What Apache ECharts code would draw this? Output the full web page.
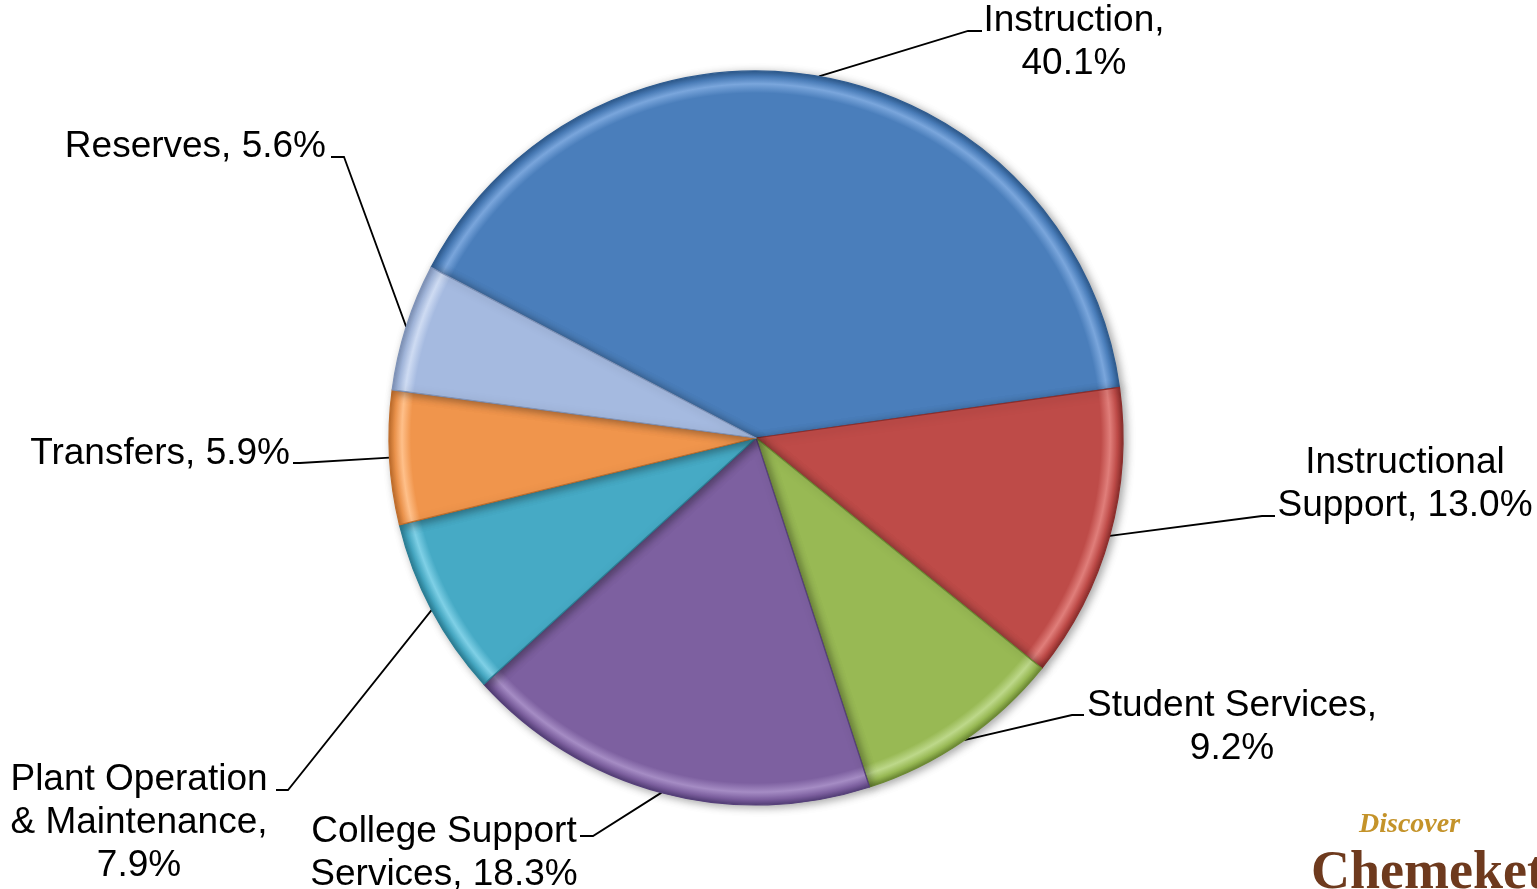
<!DOCTYPE html>
<html>
<head>
<meta charset="utf-8">
<script src="https://cdn.jsdelivr.net/npm/echarts@6/dist/echarts.min.js"></script>
<style>
html,body{margin:0;padding:0;background:#fff;}
#chart{width:1537px;height:889px;}
</style>
</head>
<body>
<div id="chart"></div>
<script>
// ---- data ----
var categories = ['Instruction', 'Instructional\nSupport', 'Student Services', 'College Support\nServices', 'Plant Operation\n& Maintenance', 'Transfers', 'Reserves'];
var separators = [',\n', ', ', ',\n', ', ', ',\n', ', ', ', '];
var values = [40.1, 13.0, 9.2, 18.3, 7.9, 5.9, 5.6];
var colors = ['#4a7ebb', '#be4b48', '#98b954', '#7d60a0', '#46aac5', '#f0954c', '#a5bae0'];
var rims = ['#7aa6dc', '#e07e7a', '#bdd88a', '#a58cc4', '#7fd0e6', '#ffc08a', '#cfdcf3'];
var edges = ['#2f5c90', '#8c2e2c', '#6d8a34', '#56407a', '#2c7f96', '#c06e2c', '#7f93b8'];

// ---- layout (positions of labels) ----
var center = [756, 438];
var radius = 367;
var labelPos = [
  {x: 1074, y: -1, align: 'center', end: [[968, 31], [982, 31]]},
  {x: 1405, y: 441, align: 'center', end: [[1262, 516], [1275, 516]]},
  {x: 1232, y: 684, align: 'center', end: [[1072, 715], [1084, 715]]},
  {x: 444, y: 810, align: 'center', end: [[593, 836], [580, 836]]},
  {x: 139, y: 758, align: 'center', end: [[288, 790], [276, 790]]},
  {x: 290, y: 432, align: 'right', end: [[300, 463], [293, 463]]},
  {x: 326, y: 125, align: 'right', end: [[344, 157], [331, 157]]}
];

var chart = echarts.init(document.getElementById('chart'), null, {renderer: 'canvas'});

var seriesData = categories.map(function (c, i) {
  return {
    name: c,
    value: values[i],
    itemStyle: {
      color: {
        type: 'radial', x: center[0], y: center[1], r: radius, global: true,
        colorStops: [
          {offset: 0, color: colors[i]},
          {offset: 0.94, color: colors[i]},
          {offset: 0.965, color: rims[i]},
          {offset: 0.985, color: colors[i]},
          {offset: 1, color: edges[i]}
        ]
      },
      borderColor: edges[i],
      borderWidth: 1.2
    }
  };
});

chart.setOption({
  animation: false,
  backgroundColor: '#ffffff',
  series: [{
    type: 'pie',
    center: center,
    radius: radius,
    startAngle: 152.3,
    clockwise: true,
    avoidLabelOverlap: false,
    data: seriesData,
    itemStyle: {
      shadowBlur: 8,
      shadowColor: 'rgba(0,0,0,0.35)',
      shadowOffsetX: 3,
      shadowOffsetY: 2
    },
    emphasis: {disabled: true},
    label: {
      show: true,
      position: 'outside',
      color: '#000',
      fontFamily: 'Liberation Sans, Arial, sans-serif',
      fontSize: 37,
      lineHeight: 43,
      formatter: function (p) {
        return categories[p.dataIndex] + separators[p.dataIndex] + values[p.dataIndex].toFixed(1) + '%';
      }
    },
    labelLine: {
      show: true,
      length: 20,
      length2: 10,
      smooth: false,
      lineStyle: {color: '#000', width: 1.8}
    },
    labelLayout: function (params) {
      var lp = labelPos[params.dataIndex];
      var start = params.labelLinePoints && params.labelLinePoints[0];
      var pts = [start].concat(lp.end);
      return {
        x: lp.x,
        y: lp.y,
        align: lp.align,
        verticalAlign: 'top',
        labelLinePoints: pts
      };
    }
  }],
  graphic: [
    {
      type: 'text',
      left: 1359, top: 811,
      style: {
        text: 'Discover',
        font: 'italic bold 28px "Liberation Serif", "DejaVu Serif", serif',
        fill: '#c4932a'
      }
    },
    {
      type: 'text',
      left: 1311, top: 847,
      style: {
        text: 'Chemeketa',
        font: 'bold 54px "Liberation Serif", "DejaVu Serif", serif',
        fill: '#6e3a1e'
      }
    }
  ]
});
</script>
</body>
</html>
